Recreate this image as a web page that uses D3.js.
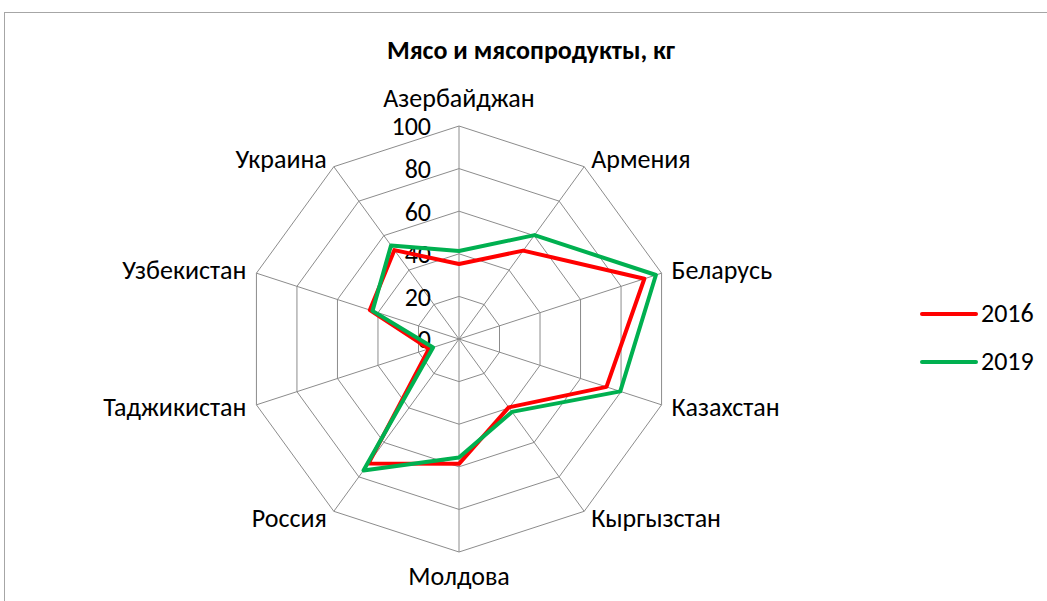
<!DOCTYPE html>
<html>
<head>
<meta charset="utf-8">
<script src="https://cdn.jsdelivr.net/npm/d3@7"></script>
<style>
  body { margin: 0; background: #fff; }
  svg { font-family: Carlito, Lato, "Noto Sans", sans-serif; }
</style>
</head>
<body>
<svg id="chart" width="1047" height="601"></svg>
<script>
// data
const countries = ["Азербайджан", "Армения", "Беларусь", "Казахстан", "Кыргызстан",
    "Молдова", "Россия", "Таджикистан", "Узбекистан", "Украина"];
const seriesNames = ["2016", "2019"];
const values2016 = [35.2, 51.3, 91.5, 72.8, 39.7, 58.6, 72.3, 14.8, 44.0, 51.6];
const values2019 = [41.3, 60.3, 97.2, 79.6, 42.3, 55.6, 76.3, 12.8, 42.7, 54.3];
const ticks = [0, 20, 40, 60, 80, 100];
const colors = ["#ff0000", "#00b050"];

const svg = d3.select("#chart");
const cx = 459, cy = 339;
const fs = 26;
const r = d3.scaleLinear().domain([0, 100]).range([0, 213]);
const angle = d3.scaleBand().domain(countries).range([0, 2 * Math.PI]).align(0);
const a = d => angle(d);

// chart frame
svg.append("rect")
    .attr("x", 4.5).attr("y", 12.5).attr("width", 1100).attr("height", 700)
    .attr("fill", "none").attr("stroke", "#a6a6a6");

svg.append("text")
    .attr("x", 531).attr("y", 51).attr("dy", "0.32em")
    .attr("text-anchor", "middle")
    .attr("font-weight", "bold").attr("font-size", fs)
    .text("Мясо и мясопродукты, кг");

const g = svg.append("g").attr("transform", `translate(${cx},${cy})`);

const ring = d3.lineRadial().curve(d3.curveLinearClosed);

// grid rings
g.append("g").selectAll("path")
    .data(ticks.filter(t => t > 0))
    .join("path")
    .attr("d", t => ring(countries.map(c => [a(c), r(t)])))
    .attr("fill", "none").attr("stroke", "#8c8c8c").attr("stroke-width", 1);

// spokes
g.append("g").selectAll("line")
    .data(countries)
    .join("line")
    .attr("x1", 0).attr("y1", 0)
    .attr("x2", c => r(100) * Math.sin(a(c)))
    .attr("y2", c => -r(100) * Math.cos(a(c)))
    .attr("stroke", "#8c8c8c").attr("stroke-width", 1);

// category labels
g.append("g").selectAll("text")
    .data(countries)
    .join("text")
    .attr("font-size", fs)
    .attr("fill", "#000")
    .attr("dy", "0.32em")
    .each(function (c) {
        const ang = a(c);
        const sx = Math.sin(ang), sy = -Math.cos(ang);
        const px = r(100) * sx, py = r(100) * sy;
        const el = d3.select(this);
        if (Math.abs(sx) < 0.01) {
            el.attr("text-anchor", "middle").attr("x", px)
              .attr("y", py + (sy < 0 ? -27 : 25));
        } else if (Math.abs(sy) > 0.5) {
            el.attr("text-anchor", sx > 0 ? "start" : "end")
              .attr("x", px + (sx > 0 ? 7 : -7))
              .attr("y", py + (sy < 0 ? -7 : 7));
        } else {
            el.attr("text-anchor", sx > 0 ? "start" : "end")
              .attr("x", px + (sx > 0 ? 10 : -10))
              .attr("y", py + (sy < 0 ? -3 : 2.5));
        }
    })
    .text(c => c);

// value axis labels
g.append("g").selectAll("text")
    .data(ticks)
    .join("text")
    .attr("x", -28)
    .attr("y", t => -r(t) + 1)
    .attr("dy", "0.32em")
    .attr("text-anchor", "end")
    .attr("font-size", fs)
    .text(t => t);

// series
const series = [values2016, values2019];
g.append("g").selectAll("path")
    .data(series)
    .join("path")
    .attr("d", vals => ring(vals.map((v, i) => [a(countries[i]), r(v)])))
    .attr("fill", "none")
    .attr("stroke", (d, i) => colors[i])
    .attr("stroke-width", 4)
    .attr("stroke-linejoin", "round");

// legend
const legend = svg.append("g").selectAll("g")
    .data(seriesNames)
    .join("g")
    .attr("transform", (d, i) => `translate(922,${314 + i * 48})`);
legend.append("line")
    .attr("x1", 0).attr("x2", 54).attr("y1", 0).attr("y2", 0)
    .attr("stroke", (d, i) => colors[i]).attr("stroke-width", 4)
    .attr("stroke-linecap", "round");
legend.append("text")
    .attr("x", 59).attr("y", 0).attr("dy", "0.32em")
    .attr("font-size", fs)
    .text(d => d);
</script>
</body>
</html>
